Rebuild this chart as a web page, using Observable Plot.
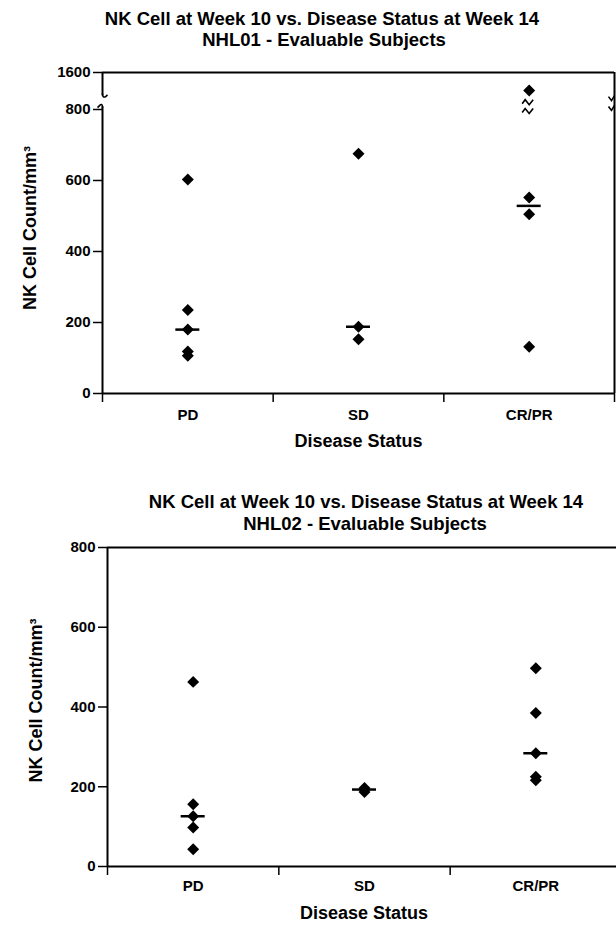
<!DOCTYPE html>
<html><head><meta charset="utf-8">
<script src="https://cdn.jsdelivr.net/npm/d3@7"></script>
<script src="https://cdn.jsdelivr.net/npm/@observablehq/plot@0.6"></script>
<style>
body{margin:0;background:#fff;}
#wrap{position:relative;width:616px;height:927px;overflow:hidden;background:#fff;font-family:"Liberation Sans",Arial,sans-serif;font-weight:bold;color:#000;}
.t{position:absolute;white-space:nowrap;font-size:18.5px;line-height:20px;transform:translateX(-50%);}
.chart{position:absolute;left:0;}
</style></head><body><div id="wrap"></div>
<script>
// ---- data ----
const categories = ["PD", "SD", "CR/PR"];
const titleLine1 = "NK Cell at Week 10 vs. Disease Status at Week 14";
const title01 = "NHL01 - Evaluable Subjects";
const title02 = "NHL02 - Evaluable Subjects";
const yLabel = "NK Cell Count/mm\u00B3";
const xLabel = "Disease Status";

// NHL01 (CR/PR top value sits above the axis break)
const nhl01PD = [603, 235, 180, 118, 106];
const nhl01SD = [675, 188, 153];
const nhl01CR = [1050, 552, 505, 132];
const ticks01 = [0, 200, 400, 600, 800, 1600];

// NHL02
const nhl02PD = [463, 156, 126, 98, 43];
const nhl02SD = [197, 193, 187];
const nhl02CR = [497, 385, 284, 225, 216];
const ticks02 = [0, 200, 400, 600, 800];

// axis-break decoration positions (in data units of the NHL01 y scale)
const breakRight01 = [873, 803];
const breakCR01 = [847, 797];
const axisGap01 = [808, 897];

// broken-axis mapping for NHL01: lower part linear, break gap, compressed upper part
const brk = [810, 900, 1600];
function brokenAxis(v) {
  if (v <= brk[0]) return v;
  if (v <= brk[1]) return brk[0] + (v - brk[0]) * (29.4 / (brk[1] - brk[0]));
  return brk[0] + 29.4 + (v - brk[1]) * (64.8 / (brk[2] - brk[1]));
}
const B = brokenAxis;
const ticks01Pos = ticks01.map(B);
const tickLabel01 = d => { const i = ticks01Pos.findIndex(t => Math.abs(t - d) < 1e-6); return i < 0 ? "" : String(ticks01[i]); };

// ---- helpers ----
function toRows(groups) {
  return groups.flatMap((vals, i) => vals.map(v => ({cat: categories[i], x: i + 0.5, value: v})));
}
function toMedians(groups) {
  return groups.map((vals, i) => ({cat: categories[i], x: i + 0.5, value: d3.median(vals)}));
}
const vMark = {draw(c) { c.moveTo(-6, -2); c.lineTo(-3, 2); c.lineTo(0, -3); }};
const zigMark = {draw(c) { c.moveTo(-6, 2); c.lineTo(-3, -2); c.lineTo(1, 3); c.lineTo(5, -2); }};
const hookTop = {draw(c) { c.moveTo(0, -2); c.quadraticCurveTo(0, 2, 3, 1); c.lineTo(5, -1); }};
const hookBottom = {draw(c) { c.moveTo(-5, 1); c.lineTo(-2, -2); c.quadraticCurveTo(0, -3, 0, 1); }};

const baseStyle = {fontFamily: "'Liberation Sans', Arial, sans-serif", fontWeight: "bold", fontSize: "15px", color: "#000", background: "transparent"};
const fmt = d => String(d);
const catFmt = d => categories[Math.floor(d)];

// ---- chart 1 ----
const groups1 = [nhl01PD, nhl01SD, nhl01CR];
const plot1 = Plot.plot({
  width: 616, height: 410,
  marginLeft: 102, marginRight: 2, marginTop: 22, marginBottom: 67,
  style: baseStyle,
  x: {domain: [0, 3], range: [102, 614]},
  y: {domain: [0, B(1600)], range: [343, 22]},
  marks: [
    Plot.ruleY([0], {x1: 0, x2: 3, strokeWidth: 2}),
    Plot.ruleY([B(1600)], {x1: 0, x2: 3, strokeWidth: 2}),
    Plot.ruleX([3], {y1: 0, y2: B(1600), strokeWidth: 2}),
    Plot.ruleX([0], {y1: 0, y2: B(axisGap01[0]), strokeWidth: 2}),
    Plot.ruleX([0], {y1: B(axisGap01[1]), y2: B(1600), strokeWidth: 2}),
    Plot.dot([axisGap01[1]], {x: 0, y: d => B(d), symbol: hookTop, fill: "none", stroke: "#000", strokeWidth: 1.6}),
    Plot.dot([axisGap01[0]], {x: 0, y: d => B(d), symbol: hookBottom, fill: "none", stroke: "#000", strokeWidth: 1.6}),
    Plot.dot(breakRight01, {x: 3, y: d => B(d), symbol: vMark, fill: "none", stroke: "#000", strokeWidth: 1.6}),
    Plot.dot(breakCR01, {x: 2.5, y: d => B(d), dx: -1, symbol: zigMark, fill: "none", stroke: "#000", strokeWidth: 1.6}),
    Plot.axisY({ticks: ticks01Pos, tickSize: 9, tickPadding: 3, fontSize: 15, strokeWidth: 1.5, tickFormat: tickLabel01, label: null}),
    Plot.axisX({ticks: [0, 1, 2, 3], tickSize: 9, tickFormat: () => "", strokeWidth: 1.5, label: null}),
    Plot.axisX({ticks: [0.5, 1.5, 2.5], tickSize: 0, tickPadding: 16, tickFormat: catFmt, fontSize: 15, label: null}),
    Plot.dot(toRows(groups1), {x: "x", y: d => B(d.value), symbol: "diamond2", r: 5.4, fill: "#000"}),
    Plot.ruleY(toMedians(groups1), {y: d => B(d.value), x1: "x", x2: "x", insetLeft: -12, insetRight: -12, strokeWidth: 2.5}),
    Plot.text([yLabel], {text: d => d, frameAnchor: "left", rotate: -90, dx: -72, dy: -5, textAnchor: "middle", lineAnchor: "middle", fontSize: 18}),
    Plot.text([xLabel], {text: d => d, frameAnchor: "bottom", dy: 48, textAnchor: "middle", lineAnchor: "middle", fontSize: 18})
  ]
});

// ---- chart 2 ----
const groups2 = [nhl02PD, nhl02SD, nhl02CR];
const plot2 = Plot.plot({
  width: 616, height: 397,
  marginLeft: 107, marginRight: 0, marginTop: 17, marginBottom: 61,
  style: baseStyle,
  x: {domain: [0, 3], range: [107, 621]},
  y: {domain: [0, 800], range: [336, 17]},
  marks: [
    Plot.ruleY([0], {x1: 0, x2: 3, strokeWidth: 2}),
    Plot.ruleY([800], {x1: 0, x2: 3, strokeWidth: 2}),
    Plot.ruleX([0, 3], {y1: 0, y2: 800, strokeWidth: 2}),
    Plot.axisY({ticks: ticks02, tickSize: 9, tickPadding: 3, fontSize: 15, strokeWidth: 1.5, tickFormat: fmt, label: null}),
    Plot.axisX({ticks: [0, 1, 2, 3], tickSize: 9, tickFormat: () => "", strokeWidth: 1.5, label: null}),
    Plot.axisX({ticks: [0.5, 1.5, 2.5], tickSize: 0, tickPadding: 14, tickFormat: catFmt, fontSize: 15, label: null}),
    Plot.dot(toRows(groups2), {x: "x", y: "value", symbol: "diamond2", r: 5.4, fill: "#000"}),
    Plot.ruleY(toMedians(groups2), {y: "value", x1: "x", x2: "x", insetLeft: -12, insetRight: -12, strokeWidth: 2.5}),
    Plot.text([yLabel], {text: d => d, frameAnchor: "left", rotate: -90, dx: -71, dy: -6.5, textAnchor: "middle", lineAnchor: "middle", fontSize: 18}),
    Plot.text([xLabel], {text: d => d, frameAnchor: "bottom", dy: 47, dx: 2, textAnchor: "middle", lineAnchor: "middle", fontSize: 18})
  ]
});

// ---- layout ----
const wrap = document.getElementById("wrap");
function addTitle(text, cx, cy) {
  const d = document.createElement("div");
  d.className = "t";
  d.textContent = text;
  d.style.left = cx + "px";
  d.style.top = (cy - 10) + "px";
  wrap.appendChild(d);
}
addTitle(titleLine1, 322, 18.5);
addTitle(title01, 324, 40);
addTitle(titleLine1, 366, 502);
addTitle(title02, 365, 524);

plot1.classList.add("chart");
plot1.style.top = "50px";
wrap.appendChild(plot1);
plot2.classList.add("chart");
plot2.style.top = "530px";
wrap.appendChild(plot2);
</script></body></html>
